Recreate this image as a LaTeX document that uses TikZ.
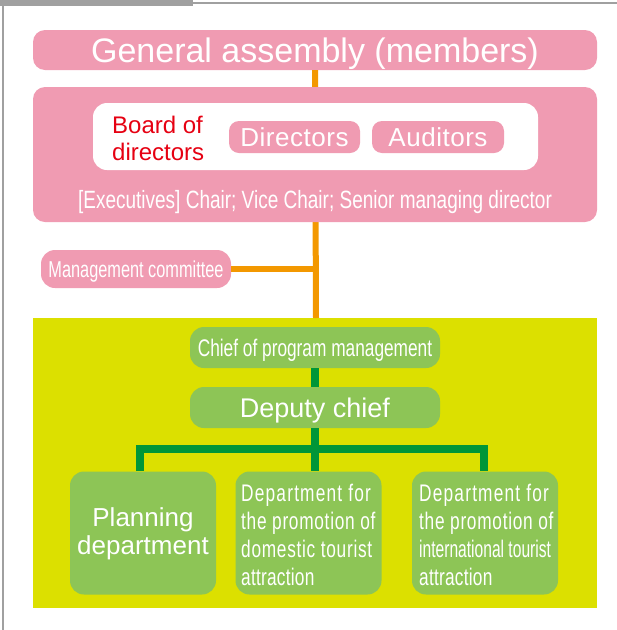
\documentclass[tikz,border=0pt]{standalone}
\usepackage{fontspec}
\setmainfont{Liberation Sans}
\newfontfamily\condexe[FakeStretch=0.76]{Liberation Sans}
\newfontfamily\condmc[FakeStretch=0.71]{Liberation Sans}
\newfontfamily\condchief[FakeStretch=0.72]{Liberation Sans}
\newfontfamily\condsp[FakeStretch=0.72,LetterSpace=5]{Liberation Sans}
\newfontfamily\condmid[FakeStretch=0.72,LetterSpace=3]{Liberation Sans}
\newfontfamily\condlow[FakeStretch=0.72,LetterSpace=1]{Liberation Sans}
\newfontfamily\condint[FakeStretch=0.65]{Liberation Sans}
\newfontfamily\widesp[LetterSpace=2]{Liberation Sans}
\definecolor{pinkc}{RGB}{240,155,178}
\definecolor{orangec}{RGB}{243,152,0}
\definecolor{yellowc}{RGB}{220,224,0}
\definecolor{lgreen}{RGB}{141,197,86}
\definecolor{dgreen}{RGB}{0,150,56}
\definecolor{redc}{RGB}{230,0,18}
\definecolor{grayc}{RGB}{160,160,160}
\tikzset{
  pinkbox/.style={fill=pinkc, rounded corners=12pt, inner sep=0pt, text=white, text depth=0pt},
  greenbox/.style={fill=lgreen, rounded corners=14pt, inner sep=0pt, text=white, text depth=0pt},
  orangeline/.style={draw=orangec, line width=6pt},
  greenline/.style={draw=dgreen, line width=8pt},
}
\begin{document}
\begin{tikzpicture}[x=1pt,y=-1pt]
\useasboundingbox (0,0) rectangle (617,630);
% frame
\fill[grayc] (0,0) rectangle (193,6);
\fill[grayc] (193,2) rectangle (617,4);
\fill[grayc] (2,0) rectangle (4,630);
% yellow area
\fill[yellowc] (33,318) rectangle (597,608);
\coordinate (ytop) at (316,318);
% general assembly
\node[pinkbox, minimum width=564pt, minimum height=40pt, font=\fontsize{34}{38}\selectfont] (ga) at (315,50) {General assembly (members)};
% orange vertical behind board
\draw[orangeline] (ga.south) -- (ytop);
% board
\node[pinkbox, minimum width=564pt, minimum height=135pt] (board) at (315,154.5) {};
\node[fill=white, rounded corners=14pt, minimum width=445pt, minimum height=67pt, inner sep=0pt] (inner) at (315.5,136.5) {};
\node[text=redc, align=left, inner sep=0pt, anchor=west, font=\fontsize{24}{27}\selectfont] (bod) at (112,138.8) {Board of\\directors};
\node[pinkbox, rounded corners=10pt, minimum width=131pt, minimum height=32pt, font=\widesp\fontsize{26}{28}\selectfont] (dir) at (294.5,137) {Directors};
\node[pinkbox, rounded corners=10pt, minimum width=132pt, minimum height=32pt, font=\widesp\fontsize{26}{28}\selectfont] (aud) at (438,137) {Auditors};
\node[text=white, inner sep=0pt, text depth=0pt, font=\condexe\fontsize{25}{28}\selectfont] (exe) at (315,199) {[Executives] Chair; Vice Chair; Senior managing director};
% management committee
\node[pinkbox, rounded corners=14pt, minimum width=190pt, minimum height=38pt, font=\condmc\fontsize{23}{26}\selectfont] (mc) at (136,269) {Management committee};
\draw[orangeline] (mc.east) -- (mc.east -| ga.south);
% green section
\node[greenbox, minimum width=250pt, minimum height=41pt, font=\condchief\fontsize{24}{27}\selectfont] (chief) at (315,347.5) {Chief of program management};
\node[greenbox, minimum width=250pt, minimum height=41pt, font=\fontsize{27}{30}\selectfont] (dep) at (315,407.5) {Deputy chief};
\node[greenbox, minimum width=146pt, minimum height=123pt, align=center, text depth=3pt, font=\fontsize{26}{28}\selectfont] (plan) at (143,533) {Planning\\department};
\node[greenbox, minimum width=146pt, minimum height=123pt] (dom) at (308.5,533) {};
\node[greenbox, minimum width=146pt, minimum height=123pt] (intl) at (485,533) {};
\node[text=white, align=left, inner sep=0pt, anchor=north west, font=\condsp\fontsize{24}{28}\selectfont] (domt) at (241,484) {Department for\\{\condmid the promotion of}\\{\condmid domestic tourist}\\{\condlow attraction}};
\node[text=white, align=left, inner sep=0pt, anchor=north west, font=\condsp\fontsize{24}{28}\selectfont] (intlt) at (419,484) {Department for\\{\condmid the promotion of}\\{\condint international tourist}\\{\condlow attraction}};
\draw[greenline] (chief.south) -- (dep.north);
\coordinate (bar) at (315,449);
\draw[greenline] (dep.south) -- (dep.south |- dom.north);
\draw[greenline] (140,471) |- (bar) -| (484,471);
\end{tikzpicture}
\end{document}
